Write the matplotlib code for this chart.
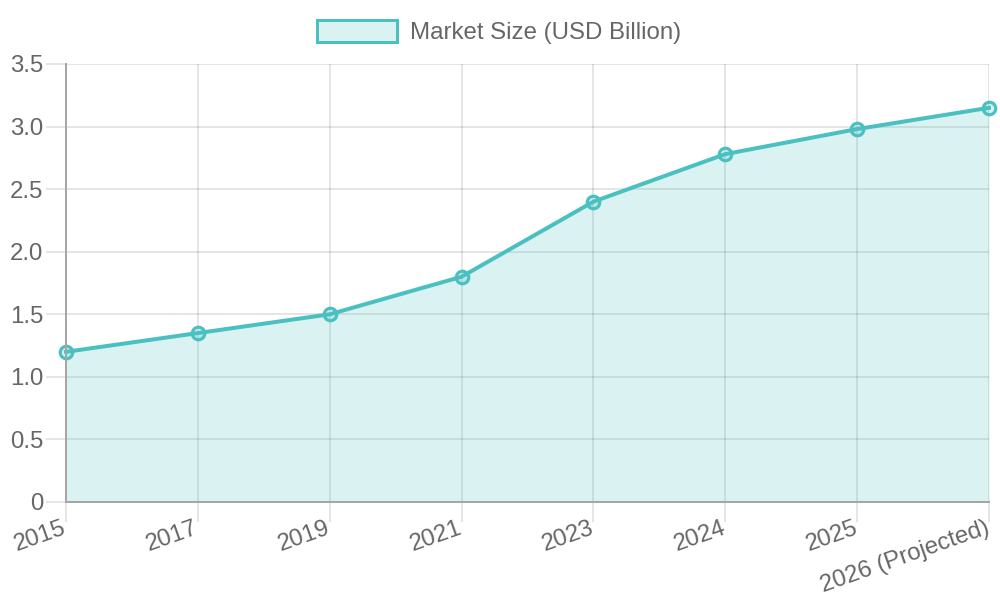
import matplotlib
matplotlib.use("Agg")
import matplotlib.pyplot as plt
import matplotlib.transforms as mtransforms
from matplotlib.patches import Patch
from matplotlib.ticker import FuncFormatter

years = ["2015", "2017", "2019", "2021", "2023", "2024", "2025", "2026 (Projected)"]
market_size = [1.2, 1.35, 1.5, 1.8, 2.4, 2.78, 2.98, 3.15]
series_label = "Market Size (USD Billion)"

plt.rcParams['font.family'] = ['Liberation Sans', 'DejaVu Sans']
PX = 72 / 100  # points per pixel at dpi 100

line_color = (75/255, 192/255, 192/255)
fill_color = (75/255, 192/255, 192/255, 0.2)
text_color = "#666666"
tick_color = "#e5e5e5"
spine_color = "#a6a6a6"
fs = 24 * PX

fig = plt.figure(figsize=(10, 6), dpi=100)
ax = fig.add_axes([66/1000, 98/600, (989-66)/1000, (502-64)/600])

x = list(range(len(years)))
ax.fill_between(x, market_size, 0, color=fill_color, linewidth=0, zorder=2)
ax.plot(x, market_size, color=line_color, linewidth=4*PX, zorder=3,
        marker='o', markersize=12.5*PX, markeredgewidth=3.2*PX,
        markerfacecolor=fill_color, markeredgecolor=line_color, clip_on=False)

ax.set_xlim(0, len(years) - 1)
ax.set_ylim(0, 3.5)
ax.set_yticks([0, 0.5, 1.0, 1.5, 2.0, 2.5, 3.0, 3.5])
ax.yaxis.set_major_formatter(FuncFormatter(lambda v, p: "0" if v == 0 else f"{v:.1f}"))
ax.set_xticks(x)
ax.set_xticklabels(years, rotation=19.5, ha='right', va='top', rotation_mode='anchor')

ax.set_axisbelow(True)
ax.tick_params(axis='both', color=tick_color, labelcolor=text_color, labelsize=fs,
               length=20*PX, width=2*PX, pad=2)
ax.tick_params(axis='x', pad=1)
ax.grid(True, color='black', alpha=0.1, linewidth=2*PX)

offset = mtransforms.ScaledTranslation(-4/100, 6/100, fig.dpi_scale_trans)
for lbl in ax.get_xticklabels():
    lbl.set_transform(lbl.get_transform() + offset)

for s in ['top', 'right']:
    ax.spines[s].set_visible(False)
for s in ['left', 'bottom']:
    ax.spines[s].set_color(spine_color)
    ax.spines[s].set_linewidth(2*PX)
    ax.spines[s].set_zorder(4)

handle = Patch(facecolor=fill_color, edgecolor=line_color, linewidth=3*PX)
leg = fig.legend([handle], [series_label], loc='center',
                 bbox_to_anchor=(0.499, 1 - 32/600), frameon=False, fontsize=fs,
                 handlelength=80/24, handleheight=1.0, handletextpad=0.55,
                 labelcolor=text_color)

fig.savefig("out.png", dpi=100)
